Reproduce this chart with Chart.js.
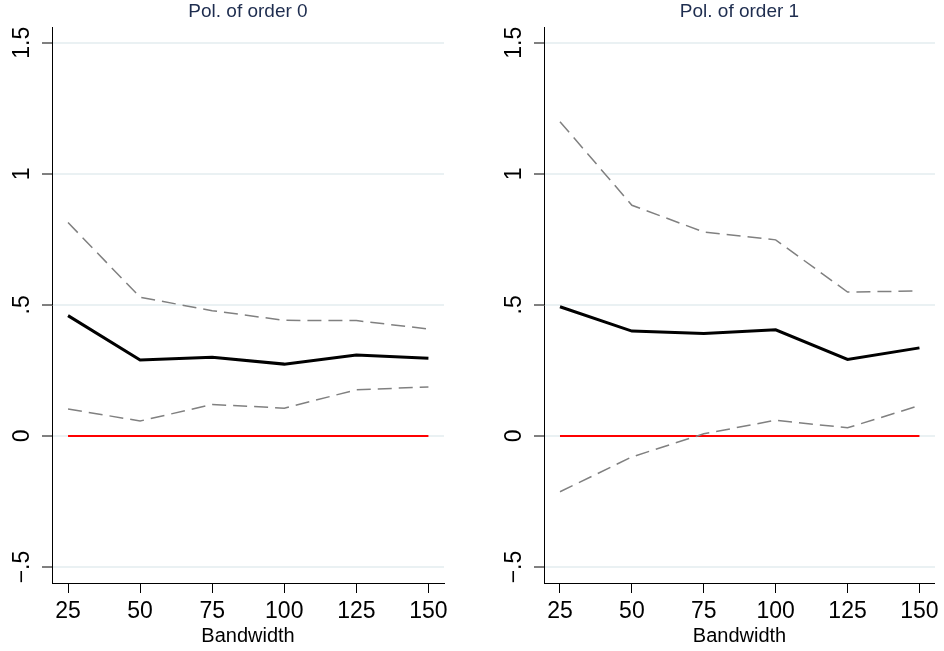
<!DOCTYPE html>
<html><head><meta charset="utf-8">
<script src="https://cdn.jsdelivr.net/npm/chart.js@4/dist/chart.umd.min.js"></script>
<style>
html,body{margin:0;padding:0;background:#fff;}
#wrap{width:944px;height:651px;display:flex;}
.c{width:472px;height:651px;position:relative;}
</style></head><body>
<div id="wrap"><div class="c"><canvas id="c0"></canvas></div><div class="c"><canvas id="c1"></canvas></div></div>
<script>
const bandwidths = [25, 50, 75, 100, 125, 150];
const titles = ["Pol. of order 0", "Pol. of order 1"];
const est0 = [0.459, 0.290, 0.300, 0.274, 0.309, 0.296];
const upper0 = [0.814, 0.529, 0.478, 0.441, 0.440, 0.408];
const lower0 = [0.103, 0.057, 0.120, 0.106, 0.176, 0.187];
const est1 = [0.493, 0.400, 0.391, 0.405, 0.292, 0.336];
const upper1 = [1.199, 0.880, 0.778, 0.748, 0.549, 0.553];
const lower1 = [-0.213, -0.080, 0.008, 0.060, 0.031, 0.116];
const zeroLine = [0, 0, 0, 0, 0, 0];
const yTicks = [-0.5, 0, 0.5, 1, 1.5];
const yTickLabels = ["\u2212.5", "0", ".5", "1", "1.5"];
const xTicks = [25, 50, 75, 100, 125, 150];
const xTitle = "Bandwidth";

const FONT = "'Liberation Sans', Arial, Helvetica, sans-serif";

const yLabelPlugin = {
  id: 'yLabels',
  afterDraw(chart) {
    const s = chart.scales.y;
    const ctx = chart.ctx;
    ctx.save();
    ctx.fillStyle = '#000';
    ctx.font = '23px ' + FONT;
    ctx.textAlign = 'center';
    ctx.textBaseline = 'middle';
    yTicks.forEach((v, i) => {
      const py = s.getPixelForValue(v);
      ctx.save();
      ctx.translate(s.right - 29, py);
      ctx.rotate(-Math.PI / 2);
      ctx.fillText(yTickLabels[i], 0, 0);
      ctx.restore();
    });
    ctx.restore();
  }
};

function pts(arr) { return bandwidths.map((x, i) => ({x: x, y: arr[i]})); }

function makeChart(id, title, est, up, lo, yAxisWidth, rightPad) {
  return new Chart(document.getElementById(id), {
    type: 'line',
    data: {
      datasets: [
        {data: pts(zeroLine), borderColor: '#ff0000', borderWidth: 2, pointRadius: 0, order: 3},
        {data: pts(up), borderColor: '#808080', borderWidth: 1.5, borderDash: [14, 7], pointRadius: 0, order: 2},
        {data: pts(lo), borderColor: '#808080', borderWidth: 1.5, borderDash: [14, 7], pointRadius: 0, order: 2},
        {data: pts(est), borderColor: '#000000', borderWidth: 3, pointRadius: 0, order: 1}
      ]
    },
    options: {
      responsive: false,
      animation: false,
      devicePixelRatio: 1,
      layout: {padding: {left: 0, right: rightPad, top: 0, bottom: 0}},
      plugins: {
        legend: {display: false},
        tooltip: {enabled: false},
        title: {
          display: true, text: title, color: '#1e2d4f', fullSize: false,
          font: {family: FONT, size: 19, weight: 'normal'},
          padding: {top: 0, bottom: 5}
        }
      },
      scales: {
        x: {
          type: 'linear', min: 19.44, max: 155.4,
          afterBuildTicks: s => { s.ticks = xTicks.map(v => ({value: v})); },
          afterFit: s => { s.height = 68; },
          grid: {drawOnChartArea: false, drawTicks: true, tickLength: 10, tickColor: '#000', tickWidth: 1},
          border: {display: true, color: '#000', width: 1},
          ticks: {color: '#000', font: {family: FONT, size: 23}, padding: 5, maxRotation: 0, autoSkip: false},
          title: {display: true, text: xTitle, color: '#000', font: {family: FONT, size: 20}, padding: {top: 0, bottom: 3}}
        },
        y: {
          type: 'linear', min: -0.561, max: 1.557,
          afterBuildTicks: s => { s.ticks = yTicks.map(v => ({value: v})); },
          afterFit: s => { s.width = yAxisWidth; },
          grid: {drawOnChartArea: true, color: '#eaf1f3', lineWidth: 2, drawTicks: true, tickLength: 10, tickColor: '#000', tickWidth: 1},
          border: {display: true, color: '#000', width: 1},
          ticks: {display: false}
        }
      }
    },
    plugins: [yLabelPlugin]
  });
}

document.getElementById('c0').width = 472; document.getElementById('c0').height = 651;
document.getElementById('c1').width = 472; document.getElementById('c1').height = 651;
makeChart('c0', titles[0], est0, upper0, lower0, 52, 28);
makeChart('c1', titles[1], est1, upper1, lower1, 72, 9);
</script>
</body></html>
